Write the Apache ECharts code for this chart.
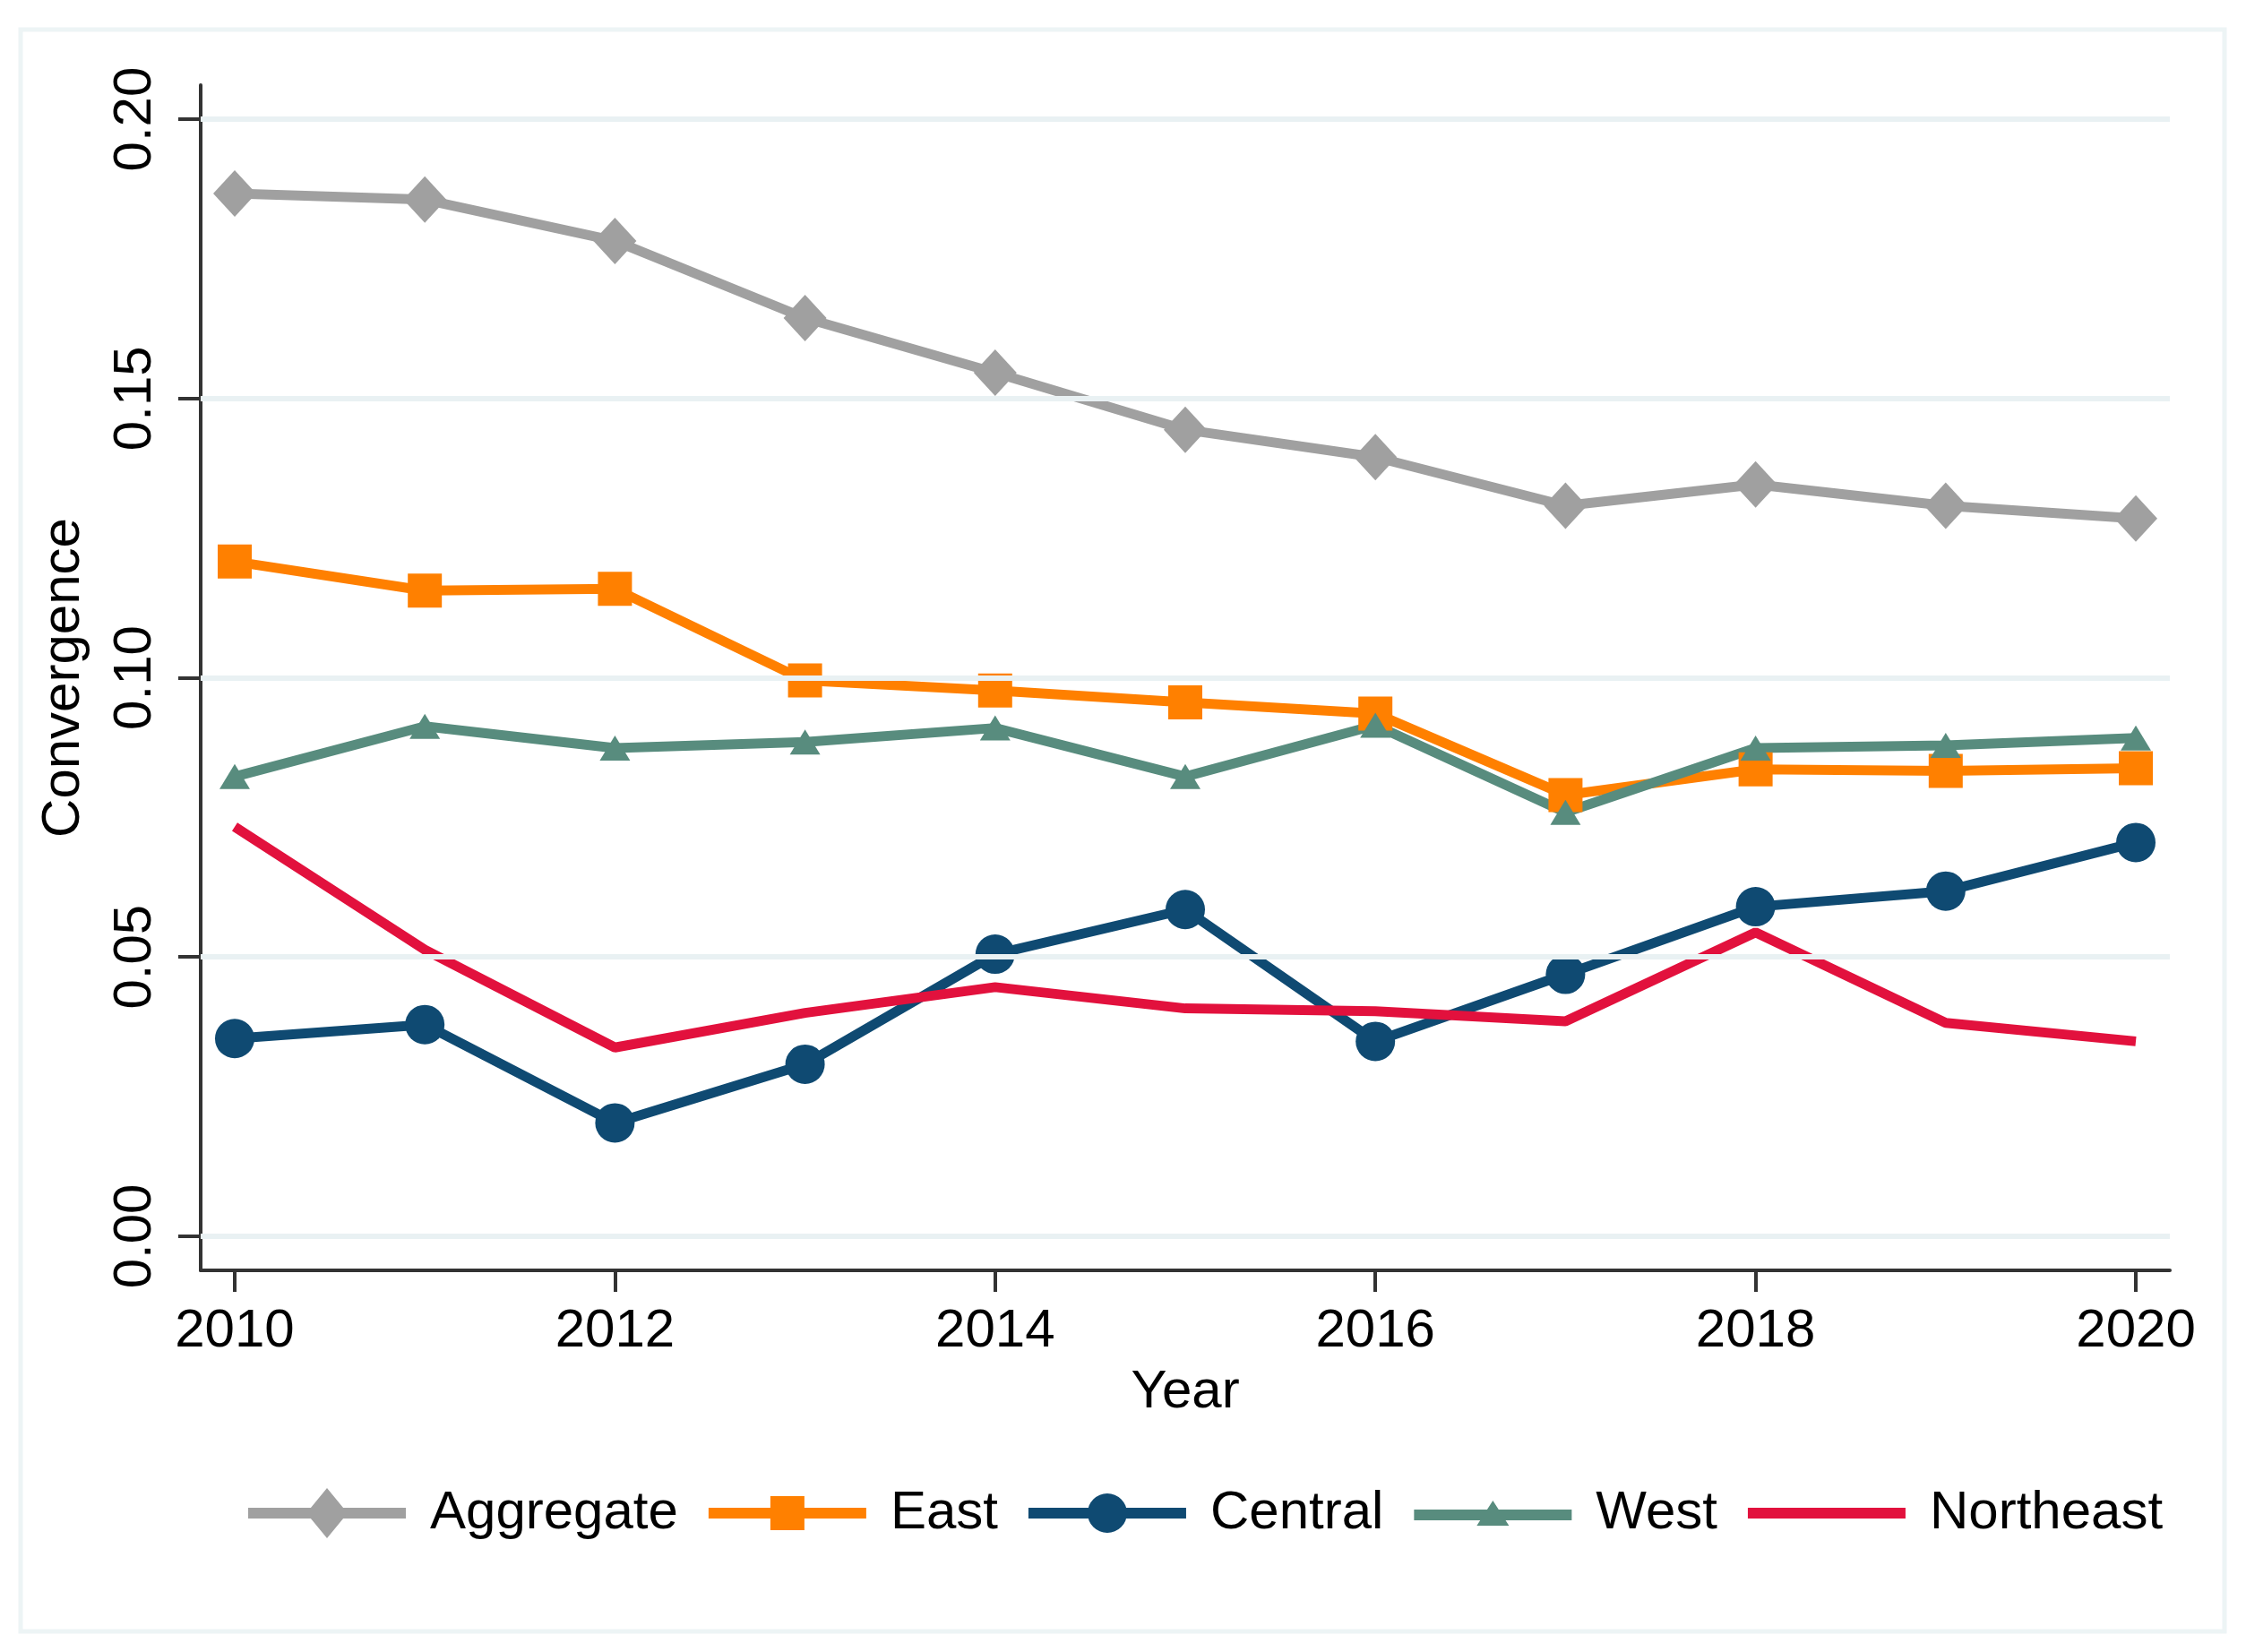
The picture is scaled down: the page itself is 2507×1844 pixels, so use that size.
<!DOCTYPE html>
<html>
<head>
<meta charset="utf-8">
<title>Convergence by region</title>
<script src="https://cdn.jsdelivr.net/npm/echarts@6/dist/echarts.min.js"></script>
<style>
  html, body { margin: 0; padding: 0; background: #fff; }
  #chart { width: 2507px; height: 1844px; }
</style>
</head>
<body>
<div id="chart"></div>
<script>
// values
const years = [2010, 2011, 2012, 2013, 2014, 2015, 2016, 2017, 2018, 2019, 2020];
const aggregate = [0.1867, 0.1856, 0.1782, 0.1644, 0.1546, 0.1444, 0.1395, 0.1308, 0.1346, 0.1308, 0.1285];
const east = [0.1208, 0.1156, 0.1159, 0.0995, 0.0977, 0.0956, 0.0936, 0.0790, 0.0836, 0.0833, 0.0838];
const central = [0.0354, 0.0379, 0.0203, 0.0308, 0.0505, 0.0585, 0.0349, 0.0469, 0.0590, 0.0618, 0.0705];
const west = [0.0823, 0.0913, 0.0874, 0.0885, 0.0910, 0.0823, 0.0915, 0.0759, 0.0874, 0.0879, 0.0892];
const northeast = [0.0733, 0.0513, 0.0338, 0.0400, 0.0446, 0.0408, 0.0403, 0.0385, 0.0544, 0.0382, 0.0349];

const xTicks = [2010, 2012, 2014, 2016, 2018, 2020];
const yTicks = [0, 0.05, 0.10, 0.15, 0.20];

const FONT = "'Liberation Sans', Arial, Helvetica, sans-serif";
const AXIS_COLOR = '#333333';
const GRID_COLOR = '#e9f1f3';

const pairs = (vals) => years.map((y, i) => [y, vals[i]]);

// legend icons: line with the marker in the middle
const icons = {
  Aggregate: 'path://M0,24H176V36H0Z M88,2L111,30L88,58L65,30Z',
  East: 'path://M0,24H176V36H0Z M69,11H107V49H69Z',
  Central: 'path://M0,24H176V36H0Z M66,30A22,22 0 1,1 110,30A22,22 0 1,1 66,30Z',
  West: 'path://M0,24H176V36H0Z M88,14L106,42L70,42Z',
  Northeast: 'path://M0,24H176V36H0Z'
};

function lineSeries(name, vals, color, symbol, size) {
  return {
    name: name,
    type: 'line',
    data: pairs(vals),
    symbol: symbol,
    symbolSize: size,
    showSymbol: symbol !== 'none',
    lineStyle: { color: color, width: 11 },
    itemStyle: { color: color },
    z: 3
  };
}

const chart = echarts.init(document.getElementById('chart'), null, { renderer: 'canvas' });

chart.setOption({
  animation: false,
  backgroundColor: '#ffffff',
  textStyle: { fontFamily: FONT },
  graphic: [{
    type: 'rect',
    shape: { x: 23, y: 33, width: 2460, height: 1788 },
    style: { fill: 'none', stroke: '#edf4f5', lineWidth: 5 },
    silent: true,
    z: 0
  }],
  grid: { left: 224, right: 85, top: 95, bottom: 426, containLabel: false },
  xAxis: {
    type: 'value',
    min: 2009.821,
    max: 2020.179,
    name: 'Year',
    nameLocation: 'middle',
    nameGap: 106,
    nameTextStyle: { fontSize: 60, color: '#000', fontFamily: FONT },
    axisLine: { show: true, onZero: false, lineStyle: { color: AXIS_COLOR, width: 4 } },
    axisTick: { show: true, length: 24, customValues: xTicks, lineStyle: { color: AXIS_COLOR, width: 4 } },
    axisLabel: {
      customValues: xTicks,
      margin: 38,
      fontSize: 60,
      color: '#000',
      fontFamily: FONT,
      formatter: (v) => String(v)
    },
    splitLine: { show: false }
  },
  yAxis: {
    type: 'value',
    min: -0.0061,
    max: 0.2061,
    name: 'Convergence',
    nameLocation: 'middle',
    nameGap: 123,
    nameRotate: 90,
    nameTextStyle: { fontSize: 60, color: '#000', fontFamily: FONT },
    axisLine: { show: true, onZero: false, lineStyle: { color: AXIS_COLOR, width: 4 } },
    axisTick: { show: true, length: 25, customValues: yTicks, lineStyle: { color: AXIS_COLOR, width: 4 } },
    axisLabel: {
      customValues: yTicks,
      rotate: 90,
      margin: 43,
      fontSize: 60,
      color: '#000',
      fontFamily: FONT,
      formatter: (v) => v.toFixed(2)
    },
    splitLine: { show: false }
  },
  legend: {
    left: 272,
    top: 1654,
    orient: 'horizontal',
    itemWidth: 176,
    itemHeight: 60,
    itemGap: 34,
    symbolKeepAspect: true,
    selectedMode: false,
    textStyle: { fontSize: 60, color: '#000', fontFamily: FONT, padding: [0, 0, 0, 22] },
    data: Object.keys(icons).map((n) => ({ name: n, icon: icons[n], itemStyle: { borderWidth: 0 } }))
  },
  series: [
    {
      name: 'grid',
      type: 'line',
      data: [],
      z: 1,
      silent: true,
      markLine: {
        silent: true,
        symbol: 'none',
        label: { show: false },
        lineStyle: { color: GRID_COLOR, width: 6, type: 'solid' },
        data: yTicks.map((v) => ({ yAxis: v }))
      }
    },
    lineSeries('Aggregate', aggregate, '#a0a0a0', 'diamond', [48, 52]),
    lineSeries('East', east, '#ff8000', 'rect', 38),
    lineSeries('Central', central, '#0f4a72', 'circle', 44),
    lineSeries('West', west, '#588c7e', 'triangle', [34, 28]),
    lineSeries('Northeast', northeast, '#e2113d', 'none', 0)
  ]
});
</script>
</body>
</html>
